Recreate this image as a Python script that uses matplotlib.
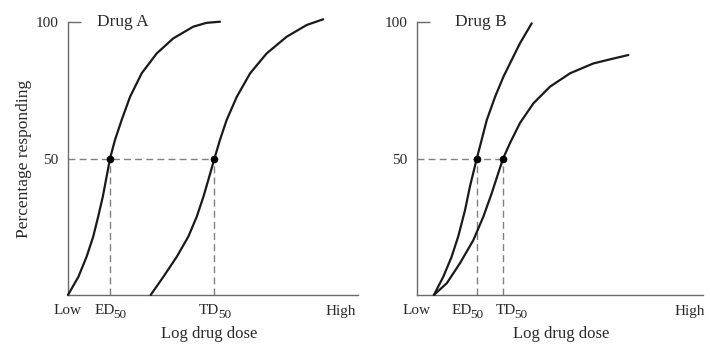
import matplotlib
matplotlib.use("Agg")
import matplotlib.pyplot as plt

plt.rcParams['font.family'] = ['Liberation Serif', 'DejaVu Serif']

# ---- data (x: log dose, 0 = Low, 100 = axis end; y: percentage responding) ----
edA_x = [0, 3.6, 6.4, 8.7, 10.4, 12.0, 13.3, 14.5, 16.2, 18.5, 21.4, 25.4, 30.6, 36.3, 43.2, 47.8, 52.4]
edA_y = [0, 6.7, 14.0, 21.4, 28.7, 36.0, 43.3, 50.0, 56.8, 64.1, 72.6, 81.2, 88.5, 94.0, 98.3, 99.7, 100.1]
tdA_x = [28.5, 32.9, 37.5, 41.5, 44.4, 46.7, 48.7, 50.5, 52.4, 54.7, 58.2, 62.8, 68.5, 75.4, 82.3, 88.0]
tdA_y = [0, 6.7, 14.0, 21.4, 28.7, 36.0, 43.3, 50.0, 56.8, 64.1, 72.6, 81.2, 88.5, 94.6, 98.9, 101.0]
ed50_A, td50_A = 14.5, 50.5

edB_x = [5.9, 9.2, 12.1, 14.4, 16.8, 18.5, 20.9, 22.3, 24.4, 27.3, 30.2, 32.5, 36.0, 40.1]
edB_y = [0, 6.7, 14.0, 21.4, 31.1, 39.7, 50.0, 55.6, 64.1, 72.6, 79.9, 84.8, 92.2, 99.5]
tdB_x = [5.9, 10.4, 15.0, 19.7, 23.2, 26.1, 28.4, 30.1, 32.5, 36.0, 40.7, 46.5, 53.5, 61.6, 68.6, 73.9]
tdB_y = [0, 4.3, 11.6, 20.1, 28.7, 37.2, 44.6, 50.0, 55.6, 63.0, 70.2, 76.3, 81.2, 84.8, 86.6, 87.9]
ed50_B, td50_B = 20.9, 30.1

titles = ["Drug A", "Drug B"]
ytick_vals = [50, 100]
ytick_labels = ["50", "100"]
xtick_main = ["Low", "ED", "TD", "High"]
xtick_sub = ["", "50", "50", ""]
xlabel = "Log drug dose"
ylabel = "Percentage responding"

W, H = 710, 344
fig = plt.figure(figsize=(W / 100, H / 100), dpi=100)

def px_axes(x0, x1, ytop, ybot):
    return fig.add_axes([x0 / W, (H - ybot) / H, (x1 - x0) / W, (ybot - ytop) / H])

axA = px_axes(68, 358, 22, 295)
axB = px_axes(417, 703, 22, 295)

txt_color = "#2a2a2a"
axis_color = "#6a6a6a"
dash_color = "#808080"
line_color = "#1a1a1a"

panels = [
    (axA, edA_x, edA_y, tdA_x, tdA_y, ed50_A, td50_A, titles[0], 10.0,
     [0, ed50_A, td50_A, 94.0], 0.486),
    (axB, edB_x, edB_y, tdB_x, tdB_y, ed50_B, td50_B, titles[1], 13.3,
     [0, 17.5, 32.9, 95.5], 0.503),
]

for ax, ex, ey, tx, ty, e50, t50, title, tpos, xlabpos, xlab_c in panels:
    ax.set_xlim(0, 100)
    ax.set_ylim(0, 100)
    for s in ["top", "right"]:
        ax.spines[s].set_visible(False)
    for s in ["left", "bottom"]:
        ax.spines[s].set_color(axis_color)
        ax.spines[s].set_linewidth(1.0)

    ax.plot(ex, ey, color=line_color, lw=1.6, clip_on=False, solid_capstyle="round",
            solid_joinstyle="round", zorder=3)
    ax.plot(tx, ty, color=line_color, lw=1.6, clip_on=False, solid_capstyle="round",
            solid_joinstyle="round", zorder=3)

    dash = dict(color=dash_color, lw=1.0, dashes=(5, 3), zorder=2)
    ax.plot([0, t50], [50, 50], **dash)
    ax.plot([e50, e50], [0, 50], **dash)
    ax.plot([t50, t50], [0, 50], **dash)
    ax.plot([e50, t50], [50, 50], "o", color="#000000", ms=4.5, zorder=4)

    ax.set_yticks(ytick_vals, ytick_labels)
    ax.tick_params(axis="y", direction="in", length=9, width=1.0, color=axis_color,
                   pad=7, labelsize=11, labelcolor=txt_color)
    ax.yaxis.get_major_ticks()[0].tick1line.set_visible(False)

    ax.set_xticks([])
    for p, main, sub in zip(xlabpos, xtick_main, xtick_sub):
        if sub:
            ax.annotate(main, xy=(p, 0), xycoords=("data", "axes fraction"),
                        xytext=(4.5, -16), textcoords="offset pixels",
                        ha="right", va="center", fontsize=11, color=txt_color,
                        annotation_clip=False)
            ax.annotate(sub, xy=(p, 0), xycoords=("data", "axes fraction"),
                        xytext=(3.5, -19.5), textcoords="offset pixels",
                        ha="left", va="center", fontsize=9.5, color=txt_color,
                        annotation_clip=False)
        else:
            ax.annotate(main, xy=(p, 0), xycoords=("data", "axes fraction"),
                        xytext=(0, -16), textcoords="offset pixels",
                        ha="center", va="center", fontsize=11, color=txt_color,
                        annotation_clip=False)

    ax.annotate(xlabel, xy=(xlab_c, 0), xycoords="axes fraction",
                xytext=(0, -39), textcoords="offset pixels",
                ha="center", va="center", fontsize=12, color=txt_color,
                annotation_clip=False)
    ax.text(tpos, 100, title, fontsize=12.5, color=txt_color, va="center", ha="left")

axA.set_ylabel(ylabel, fontsize=12.5, color=txt_color)
axA.yaxis.set_label_coords(-36 / 290, 0.5)

fig.savefig("out.png", dpi=100, facecolor="white")
